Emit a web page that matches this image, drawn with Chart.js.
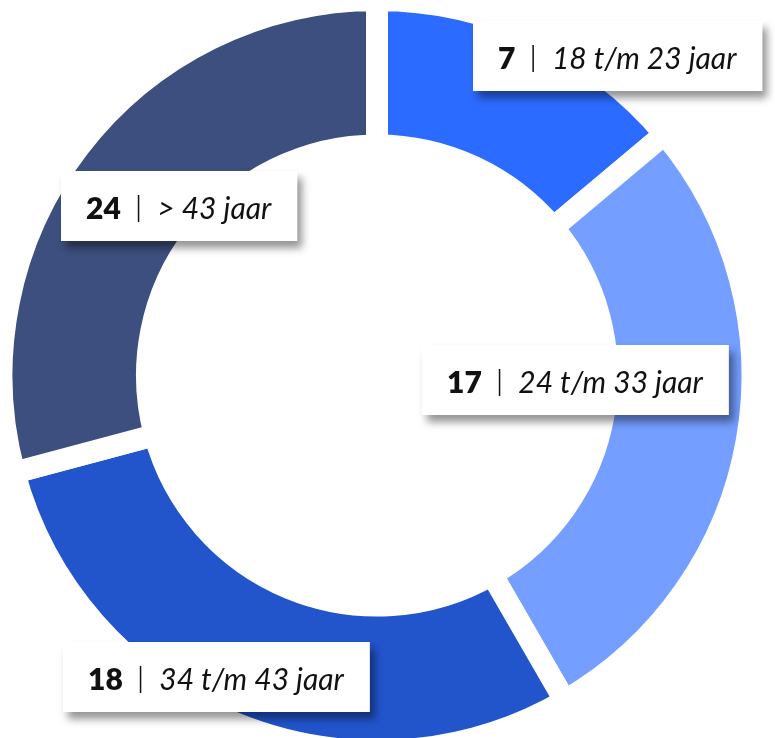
<!DOCTYPE html>
<html>
<head>
<meta charset="utf-8">
<script src="https://cdn.jsdelivr.net/npm/chart.js@4.4.1/dist/chart.umd.min.js"></script>
<style>
html, body { margin: 0; padding: 0; background: #ffffff; overflow: hidden; }
canvas { display: block; }
</style>
</head>
<body>
<canvas id="chart" width="775" height="738"></canvas>
<script>
// ---- data ----
const ageGroups = ['18 t/m 23 jaar', '24 t/m 33 jaar', '34 t/m 43 jaar', '> 43 jaar'];
const counts = [7, 17, 18, 24];
// slice sizes as drawn in the picture (angles 50°, 100°, 105°, 105°)
const sliceShares = [10, 20, 21, 21];
const sliceColors = ['#2B6BFF', '#749EFF', '#2254CC', '#3D4F7E'];

// ---- layout (label box offset from each slice's centre point) ----
const labelOffsets = [[113, -45], [-100, -48], [-45, 22], [42, 15]];

const boxLabels = {
  id: 'boxLabels',
  afterDatasetsDraw(chart) {
    const ctx = chart.ctx;
    const arcs = chart.getDatasetMeta(0).data;
    const numFont = '800 30px Lato';
    const txtFont = 'italic 400 30px Lato';
    const padL = 25, padR = 26, g1 = 17, g2 = 18, h = 70;
    arcs.forEach((arc, i) => {
      const p = arc.getCenterPoint();
      const cx = p.x + labelOffsets[i][0];
      const cy = p.y + labelOffsets[i][1];
      const num = String(counts[i]);
      const txt = ageGroups[i];
      ctx.save();
      ctx.font = numFont;
      const nw = ctx.measureText(num).width;
      ctx.font = txtFont;
      const tw = ctx.measureText(txt).width;
      const w = padL + nw + g1 + 1.5 + g2 + tw + padR;
      const bx = Math.round(cx - w / 2), by = Math.round(cy - h / 2);
      ctx.shadowColor = 'rgba(0,0,0,0.42)';
      ctx.shadowBlur = 8;
      ctx.shadowOffsetX = 5;
      ctx.shadowOffsetY = 7;
      ctx.fillStyle = '#ffffff';
      ctx.fillRect(bx, by, w, h);
      ctx.shadowColor = 'rgba(0,0,0,0)';
      ctx.shadowBlur = 0; ctx.shadowOffsetX = 0; ctx.shadowOffsetY = 0;
      const base = by + 48;
      ctx.fillStyle = '#111111';
      ctx.textBaseline = 'alphabetic';
      ctx.textAlign = 'left';
      ctx.font = numFont;
      ctx.fillText(num, bx + padL, base);
      const barX = bx + padL + nw + g1;
      ctx.fillRect(barX, base - 24, 1.5, 27);
      ctx.font = txtFont;
      ctx.fillText(txt, barX + 1.5 + g2, base);
      ctx.restore();
    });
  }
};

new Chart(document.getElementById('chart'), {
  type: 'doughnut',
  data: {
    labels: ageGroups,
    datasets: [{
      data: sliceShares,
      backgroundColor: sliceColors,
      borderColor: '#ffffff',
      borderWidth: 22,
      hoverOffset: 0,
      clip: false
    }]
  },
  options: {
    responsive: false,
    animation: false,
    events: [],
    radius: 375.5,
    cutout: '61.25%',
    layout: { padding: { left: 0, right: 21, top: 13, bottom: 0 } },
    plugins: {
      legend: { display: false },
      tooltip: { enabled: false }
    }
  },
  plugins: [boxLabels]
});
</script>
</body>
</html>
